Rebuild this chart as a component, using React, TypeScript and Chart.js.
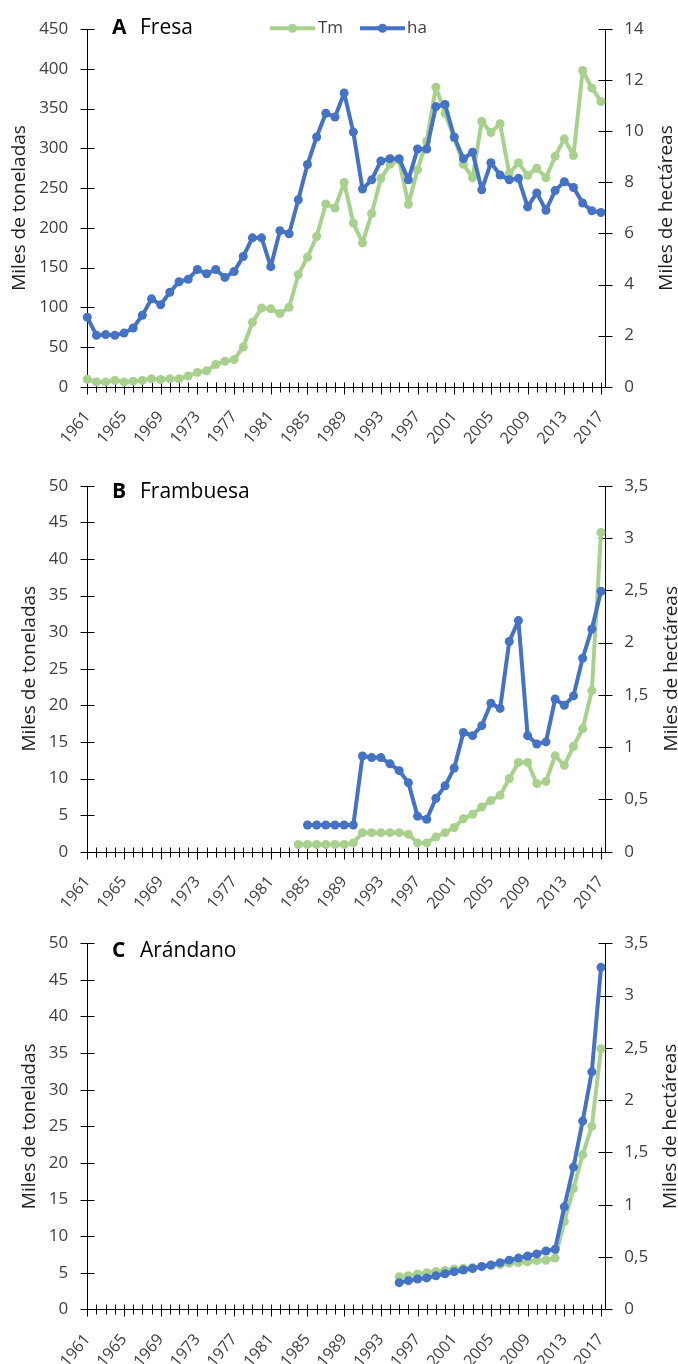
import React, { useEffect, useRef } from "react";
import { Chart, registerables } from "chart.js";

Chart.register(...registerables);

const FONT = "'Open Sans', 'Noto Sans', sans-serif";
const TICK_COLOR = "#404040";
const TITLE_COLOR = "#1f1f1f";
const GREEN = "#A9D18E";
const BLUE = "#4472C4";

// categories
const FIRST_YEAR = 1961;
const LAST_YEAR = 2017;
const xTickLabels = [1961, 1965, 1969, 1973, 1977, 1981, 1985, 1989, 1993, 1997, 2001, 2005, 2009, 2013, 2017];

// A  Fresa (1961-2017): Tm in thousands of tonnes, ha in thousands of hectares
const fresaStart = 1961;
const fresaTm = [
  9.4, 6, 6, 8, 6, 7, 8, 10, 9, 10,
  10, 13.5, 18, 20, 28, 32, 34, 50, 81, 99,
  98, 92, 100, 141, 163, 189, 230, 225, 257, 206,
  181, 218, 262, 280, 285, 229.5, 273, 309, 377, 344,
  313, 280, 263, 334, 320, 331, 268, 282, 266, 275,
  263, 290, 312, 291, 398, 376, 359,
];
const fresaHa = [
  2.72, 2.01, 2.04, 2.01, 2.1, 2.3, 2.8, 3.44, 3.21, 3.7,
  4.11, 4.21, 4.59, 4.42, 4.59, 4.28, 4.51, 5.1, 5.83, 5.83,
  4.7, 6.11, 5.99, 7.32, 8.7, 9.78, 10.71, 10.56, 11.5, 9.97,
  7.74, 8.1, 8.84, 8.93, 8.93, 8.1, 9.31, 9.31, 10.97, 11.05,
  9.78, 8.93, 9.18, 7.71, 8.77, 8.29, 8.1, 8.16, 7.04, 7.59,
  6.91, 7.68, 8.03, 7.8, 7.19, 6.89, 6.82,
];

// B  Frambuesa
const frambuesaTmStart = 1984;
const frambuesaTm = [
  1.0, 1.0, 1.0, 1.0, 1.0, 1.0, 1.2, 2.6, 2.6, 2.6,
  2.6, 2.6, 2.4, 1.2, 1.2, 2.0, 2.6, 3.3, 4.5, 5.1,
  6.1, 7.0, 7.7, 10.0, 12.2, 12.2, 9.3, 9.6, 13.1, 11.8,
  14.4, 16.8, 22.0, 43.6,
];
const frambuesaHaStart = 1985;
const frambuesaHa = [
  0.255, 0.255, 0.255, 0.255, 0.255, 0.255, 0.915, 0.9, 0.9, 0.84,
  0.775, 0.66, 0.34, 0.31, 0.51, 0.63, 0.8, 1.14, 1.11, 1.205,
  1.42, 1.37, 2.01, 2.21, 1.11, 1.03, 1.05, 1.46, 1.4, 1.49,
  1.85, 2.13, 2.49,
];

// C  Arándano
const arandanoStart = 1995;
const arandanoTm = [
  4.46, 4.6, 4.83, 5.0, 5.15, 5.3, 5.5, 5.6, 5.7, 5.8,
  6.0, 6.1, 6.3, 6.4, 6.5, 6.65, 6.7, 7.0, 12.0, 16.5,
  21.1, 25.0, 35.6,
];
const arandanoHa = [
  0.255, 0.274, 0.29, 0.3, 0.32, 0.34, 0.36, 0.376, 0.39, 0.41,
  0.424, 0.446, 0.47, 0.49, 0.51, 0.53, 0.558, 0.574, 0.98, 1.36,
  1.8, 2.27, 3.27,
];

const leftTitle = "Miles de toneladas";
const rightTitle = "Miles de hectáreas";
const legendLabels = ["Tm", "ha"];

type Panel = {
  letter: string;
  name: string;
  tm: number[];
  tmStart: number;
  ha: number[];
  haStart: number;
  leftMax: number;
  leftStep: number;
  rightMax: number;
  rightStep: number;
  top: number;
  height: number;
  areaTop: number;
  areaBottom: number;
  leftTitleX: number;
  rightTitleX: number;
  labelY: number;
  legend: boolean;
};

const panels: Panel[] = [
  {
    letter: "A", name: "Fresa", tm: fresaTm, tmStart: fresaStart, ha: fresaHa, haStart: fresaStart,
    leftMax: 450, leftStep: 50, rightMax: 14, rightStep: 2,
    top: 0, height: 460, areaTop: 20.7, areaBottom: 386.7,
    leftTitleX: 20, rightTitleX: 667, labelY: 28.5, legend: true,
  },
  {
    letter: "B", name: "Frambuesa", tm: frambuesaTm, tmStart: frambuesaTmStart, ha: frambuesaHa, haStart: frambuesaHaStart,
    leftMax: 50, leftStep: 5, rightMax: 3.5, rightStep: 0.5,
    top: 450, height: 480, areaTop: 35.7, areaBottom: 401.7,
    leftTitleX: 29.5, rightTitleX: 671.5, labelY: 42, legend: false,
  },
  {
    letter: "C", name: "Arándano", tm: arandanoTm, tmStart: arandanoStart, ha: arandanoHa, haStart: arandanoStart,
    leftMax: 50, leftStep: 5, rightMax: 3.5, rightStep: 0.5,
    top: 900, height: 480, areaTop: 43.3, areaBottom: 409.3,
    leftTitleX: 29.5, rightTitleX: 671, labelY: 51, legend: false,
  },
];

const CANVAS_W = 678;
const AXIS_LEFT = 87.3;
const AXIS_RIGHT = 605.3;

function toPoints(values: number[], start: number) {
  return values.map((v, i) => ({ x: start + i, y: v }));
}

function makeOverlay(p: Panel) {
  return {
    id: "overlay" + p.letter,
    beforeDatasetsDraw(chart: any) {
      const ctx = chart.ctx as CanvasRenderingContext2D;
      const { left, right, top, bottom } = chart.chartArea;
      const xs = chart.scales.x;
      const yl = chart.scales.y;
      const yr = chart.scales.y1;
      const lx = Math.round(left) + 0.5;
      const rx = Math.round(right) + 0.5;
      const by = Math.round(bottom) + 0.5;
      ctx.save();
      ctx.strokeStyle = "#000";
      ctx.lineWidth = 1;
      ctx.beginPath();
      ctx.moveTo(lx, Math.round(top));
      ctx.lineTo(lx, by);
      ctx.moveTo(rx, Math.round(top));
      ctx.lineTo(rx, by);
      ctx.moveTo(lx, by);
      ctx.lineTo(rx, by);
      for (let v = 0; v <= p.leftMax + 1e-9; v += p.leftStep) {
        const py = Math.round(yl.getPixelForValue(v)) + 0.5;
        ctx.moveTo(lx - 7, py);
        ctx.lineTo(lx + 7, py);
      }
      for (let v = 0; v <= p.rightMax + 1e-9; v += p.rightStep) {
        const py = Math.round(yr.getPixelForValue(v)) + 0.5;
        ctx.moveTo(rx - 7, py);
        ctx.lineTo(rx + 7, py);
      }
      for (let yv = FIRST_YEAR; yv <= LAST_YEAR; yv++) {
        const px = Math.round(xs.getPixelForValue(yv)) + 0.5;
        const major = xTickLabels.includes(yv);
        ctx.moveTo(px, by - 5);
        ctx.lineTo(px, by + (major ? 7 : 5));
      }
      ctx.stroke();
      ctx.restore();
    },
    afterDraw(chart: any) {
      const ctx = chart.ctx as CanvasRenderingContext2D;
      const { top, bottom } = chart.chartArea;
      const cy = (top + bottom) / 2;
      ctx.save();
      ctx.fillStyle = TITLE_COLOR;
      ctx.font = `19px ${FONT}`;
      ctx.textAlign = "center";
      ctx.textBaseline = "middle";
      ctx.save();
      ctx.translate(p.leftTitleX, cy);
      ctx.rotate(-Math.PI / 2);
      ctx.fillText(leftTitle, 0, 0);
      ctx.restore();
      ctx.save();
      ctx.translate(p.rightTitleX, cy);
      ctx.rotate(-Math.PI / 2);
      ctx.fillText(rightTitle, 0, 0);
      ctx.restore();

      // panel label
      ctx.textAlign = "left";
      ctx.fillStyle = "#000";
      ctx.font = `bold 21px ${FONT}`;
      ctx.fillText(p.letter, 112, p.labelY);
      ctx.font = `21px ${FONT}`;
      ctx.fillText(p.name, 140, p.labelY);

      if (p.legend) {
        const ly = 28.3;
        const items = [
          { color: GREEN, x0: 270, x1: 315, text: legendLabels[0], tx: 318 },
          { color: BLUE, x0: 360, x1: 405, text: legendLabels[1], tx: 407 },
        ];
        for (const it of items) {
          ctx.strokeStyle = it.color;
          ctx.lineWidth = 4;
          ctx.beginPath();
          ctx.moveTo(it.x0, ly);
          ctx.lineTo(it.x1, ly);
          ctx.stroke();
          ctx.fillStyle = it.color;
          ctx.beginPath();
          ctx.arc((it.x0 + it.x1) / 2, ly, 4.5, 0, Math.PI * 2);
          ctx.fill();
          ctx.fillStyle = TICK_COLOR;
          ctx.font = `17px ${FONT}`;
          ctx.fillText(it.text, it.tx, ly);
        }
      }
      ctx.restore();
    },
  };
}

function PanelChart({ p }: { p: Panel }) {
  const ref = useRef<HTMLCanvasElement | null>(null);
  useEffect(() => {
    if (!ref.current) return;
    const xMax = LAST_YEAR + (AXIS_RIGHT - 601) / ((601 - AXIS_LEFT) / (LAST_YEAR - FIRST_YEAR));
    const common = {
      borderWidth: 4,
      borderJoinStyle: "round" as const,
      borderCapStyle: "round" as const,
      pointRadius: 4.5,
      pointBorderWidth: 0,
      tension: 0,
      clip: false as any,
    };
    const chart = new Chart(ref.current, {
      type: "line",
      data: {
        datasets: [
          {
            ...common,
            label: legendLabels[1],
            data: toPoints(p.ha, p.haStart),
            yAxisID: "y1",
            borderColor: BLUE,
            backgroundColor: BLUE,
            pointBackgroundColor: BLUE,
            order: 0,
          },
          {
            ...common,
            label: legendLabels[0],
            data: toPoints(p.tm, p.tmStart),
            yAxisID: "y",
            borderColor: GREEN,
            backgroundColor: GREEN,
            pointBackgroundColor: GREEN,
            order: 1,
          },
        ],
      },
      options: {
        animation: false,
        responsive: false,
        maintainAspectRatio: false,
        layout: { padding: { top: p.areaTop, bottom: 0, left: 0, right: 0 } },
        plugins: { legend: { display: false }, tooltip: { enabled: false } },
        scales: {
          x: {
            type: "linear",
            min: FIRST_YEAR,
            max: xMax,
            grid: { display: false, drawTicks: false },
            border: { display: false },
            afterBuildTicks: (s: any) => {
              s.ticks = xTickLabels.map((v) => ({ value: v }));
            },
            afterFit: (s: any) => {
              s.height = p.height - p.areaBottom;
            },
            ticks: {
              autoSkip: false,
              maxRotation: 50,
              minRotation: 50,
              padding: 21,
              color: TICK_COLOR,
              font: { family: FONT, size: 16 },
              callback: (v: any) => String(v),
            },
          },
          y: {
            position: "left",
            min: 0,
            max: p.leftMax,
            grid: { display: false, drawTicks: false },
            border: { display: false },
            afterFit: (s: any) => {
              s.width = AXIS_LEFT;
            },
            ticks: {
              stepSize: p.leftStep,
              padding: 19,
              color: TICK_COLOR,
              font: { family: FONT, size: 17 },
            },
          },
          y1: {
            position: "right",
            min: 0,
            max: p.rightMax,
            grid: { display: false, drawTicks: false },
            border: { display: false },
            afterFit: (s: any) => {
              s.width = CANVAS_W - AXIS_RIGHT;
            },
            ticks: {
              stepSize: p.rightStep,
              padding: 19,
              color: TICK_COLOR,
              font: { family: FONT, size: 17 },
              callback: (v: any) => String(v).replace(".", ","),
            },
          },
        },
      } as any,
      plugins: [makeOverlay(p)],
    });
    return () => chart.destroy();
  }, [p]);
  return (
    <canvas
      ref={ref}
      width={CANVAS_W}
      height={p.height}
      style={{ position: "absolute", left: 0, top: p.top, width: CANVAS_W, height: p.height }}
    />
  );
}

export default function App() {
  return (
    <div style={{ position: "absolute", left: 0, top: 0, width: CANVAS_W, height: 1364, background: "#fff", overflow: "hidden" }}>
      {panels.map((p) => (
        <PanelChart key={p.letter} p={p} />
      ))}
    </div>
  );
}
